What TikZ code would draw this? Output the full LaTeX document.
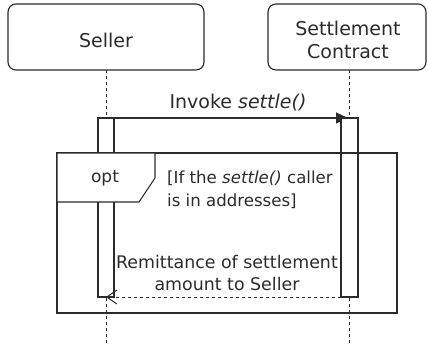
\documentclass[tikz,border=0pt]{standalone}
\usepackage{fontspec}
\setmainfont{DejaVu Sans}
\usetikzlibrary{arrows.meta}
\definecolor{ink}{HTML}{2B2B2B}
\tikzset{
  every node/.style={text=ink},
  header/.style={draw=ink, line width=1.1pt, rounded corners=8pt, fill=white},
  lifeline/.style={draw=ink, line width=1pt, dash pattern=on 3pt off 3pt},
  activation/.style={draw=ink, line width=1.1pt, fill=white},
  frame/.style={draw=ink, line width=1.1pt},
  call/.style={draw=ink, line width=1.1pt, -{Triangle[length=12pt,width=11pt]}},
  reply/.style={draw=ink, line width=1pt, dash pattern=on 3pt off 3pt, -{Straight Barb[length=10pt,width=14pt,line width=1pt]}},
  txt/.style={inner sep=0pt, font=\fontsize{#1}{23}\selectfont},
}
\begin{document}
\begin{tikzpicture}[x=1pt,y=-1pt]
\useasboundingbox (0,0) rectangle (428,343);

% participants
\draw[header] (8,4) rectangle (204,70);
\node[txt=19] (seller) at (106,40) {Seller};
\draw[header] (268,4) rectangle (426,70);
\node[txt=19, align=center] (contract) at (348,40) {Settlement\\Contract};

% lifelines
\coordinate (sTop) at (106,70);
\coordinate (sBot) at (106,343);
\coordinate (cTop) at (349,70);
\coordinate (cBot) at (349,343);
\draw[lifeline] (sTop) -- (sBot);
\draw[lifeline] (cTop) -- (cBot);

% invocation arrow
\coordinate (invFrom) at (114,118);
\coordinate (invTo) at (348,118);
\draw[call] (invFrom) -- (invTo);
\node[txt=19] (invoke) at (238,103) {Invoke \textit{settle()}};

% activation bars
\draw[activation] (98,118) rectangle (114,297);
\draw[activation] (341,118) rectangle (358,297);

% optional fragment
\draw[frame] (57,153) rectangle (397,313);
\draw[frame, fill=white] (57,153) -- (155,153) -- (155,178) -- (139,202) -- (57,202) -- cycle;
\node[txt=17] (opt) at (105,178) {opt};
\node[txt=16.6, anchor=west, align=left] (guard) at (167,190)
  {[If the \textit{settle()} caller\\is in addresses]};

% reply arrow
\coordinate (retFrom) at (341,297);
\coordinate (retTo) at (106,297);
\draw[reply] (retFrom) -- (retTo);
\node[txt=17.4, align=center, font=\fontsize{17.4}{22}\selectfont] (remit) at (227,273)
  {Remittance of settlement\\amount to Seller};
\end{tikzpicture}
\end{document}
